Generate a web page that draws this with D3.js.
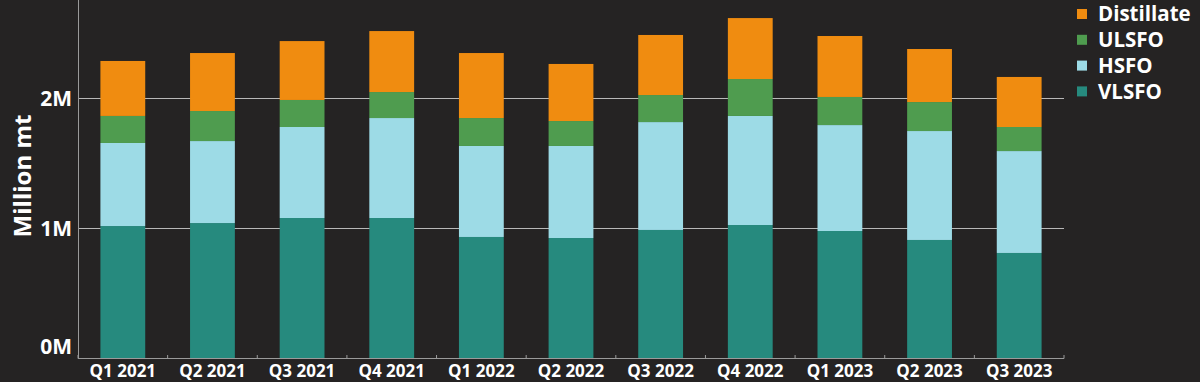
<!DOCTYPE html>
<html>
<head>
  <meta charset="utf-8">
  <title>Bunker fuel sales by grade</title>
  <script src="https://d3js.org/d3.v7.min.js"></script>
  <style>
    body {
      margin: 0;
      background: #252323;
    }
    svg text {
      font-family: "Open Sans", "DejaVu Sans", sans-serif;
      font-weight: 700;
      fill: #ffffff;
    }
  </style>
</head>
<body>
  <div id="chart"></div>
  <script>
    // quarters on the x axis
    var quarters = ["Q1 2021", "Q2 2021", "Q3 2021", "Q4 2021", "Q1 2022", "Q2 2022",
                    "Q3 2022", "Q4 2022", "Q1 2023", "Q2 2023", "Q3 2023"];

    // million mt per grade (stacked bottom to top)
    var vlsfo      = [1.015, 1.038, 1.077, 1.077, 0.931, 0.923, 0.985, 1.023, 0.977, 0.908, 0.808];
    var hsfo       = [0.639, 0.631, 0.700, 0.769, 0.700, 0.708, 0.830, 0.839, 0.815, 0.838, 0.784];
    var ulsfo      = [0.208, 0.231, 0.208, 0.200, 0.215, 0.192, 0.208, 0.284, 0.216, 0.223, 0.185];
    var distillate = [0.423, 0.446, 0.453, 0.469, 0.500, 0.439, 0.462, 0.469, 0.469, 0.408, 0.385];

    var seriesNames = ["VLSFO", "HSFO", "ULSFO", "Distillate"];
    var yTicks = [0, 1, 2];

    var colors = {
      "VLSFO": "#268a7e",
      "HSFO": "#9ddbe6",
      "ULSFO": "#4f9c4f",
      "Distillate": "#f08c10"
    };

    var width = 1200, height = 382;
    var plotLeft = 78, plotRight = 1064, plotBottom = 358, plotTop = 0;

    var svg = d3.select("#chart").append("svg")
      .attr("width", width)
      .attr("height", height);

    // build rows for the stack
    var rows = quarters.map(function(q, i) {
      return { q: q, VLSFO: vlsfo[i], HSFO: hsfo[i], ULSFO: ulsfo[i], Distillate: distillate[i] };
    });
    var stacked = d3.stack().keys(seriesNames)(rows);

    var x = d3.scaleBand().domain(quarters).range([plotLeft, plotRight]).paddingInner(0.5).paddingOuter(0.25);
    var y = d3.scaleLinear().domain([0, 2.754]).range([plotBottom, plotTop]);

    // gridlines
    svg.append("g")
      .selectAll("line")
      .data(yTicks.filter(function(d) { return d > 0; }))
      .enter().append("line")
      .attr("x1", plotLeft).attr("x2", plotRight)
      .attr("y1", function(d) { return Math.round(y(d)) + 0.5; })
      .attr("y2", function(d) { return Math.round(y(d)) + 0.5; })
      .attr("stroke", "#b8b8b8")
      .attr("stroke-width", 1);

    // bars
    svg.append("g")
      .selectAll("g")
      .data(stacked)
      .enter().append("g")
      .attr("fill", function(d) { return colors[d.key]; })
      .selectAll("rect")
      .data(function(d) { return d; })
      .enter().append("rect")
      .attr("x", function(d) { return x(d.data.q); })
      .attr("width", x.bandwidth())
      .attr("y", function(d) { return y(d[1]); })
      .attr("height", function(d) { return y(d[0]) - y(d[1]); });

    // y axis line
    svg.append("line")
      .attr("x1", plotLeft + 0.5).attr("x2", plotLeft + 0.5)
      .attr("y1", plotTop).attr("y2", plotBottom)
      .attr("stroke", "#9a9a9a");

    // x axis line + ticks at band edges
    svg.append("line")
      .attr("x1", plotLeft).attr("x2", plotRight)
      .attr("y1", plotBottom + 0.5).attr("y2", plotBottom + 0.5)
      .attr("stroke", "#9a9a9a");

    var edges = d3.range(quarters.length + 1).map(function(i) {
      return plotLeft + i * (plotRight - plotLeft) / quarters.length;
    });
    svg.append("g")
      .selectAll("line")
      .data(edges)
      .enter().append("line")
      .attr("x1", function(d) { return d; })
      .attr("x2", function(d) { return d; })
      .attr("y1", plotBottom - 3).attr("y2", plotBottom + 0.5)
      .attr("stroke", "#9a9a9a");

    // x labels
    svg.append("g")
      .selectAll("text")
      .data(quarters)
      .enter().append("text")
      .attr("x", function(d) { return x(d) + x.bandwidth() / 2; })
      .attr("y", 377)
      .attr("text-anchor", "middle")
      .style("font-size", "17px")
      .text(function(d) { return d; });

    // y labels
    svg.append("g")
      .selectAll("text")
      .data(yTicks)
      .enter().append("text")
      .attr("x", 72)
      .attr("y", function(d) { return d === 0 ? y(d) - 12 : y(d); })
      .attr("dy", "0.36em")
      .attr("text-anchor", "end")
      .style("font-size", "21px")
      .text(function(d) { return d + "M"; });

    // y title
    svg.append("text")
      .attr("transform", "translate(31,176) rotate(-90)")
      .attr("text-anchor", "middle")
      .style("font-size", "24px")
      .text("Million mt");

    // legend (top to bottom: Distillate first)
    var legend = svg.append("g")
      .selectAll("g")
      .data(seriesNames.slice().reverse())
      .enter().append("g")
      .attr("transform", function(d, i) { return "translate(1077," + (14 + i * 25.8) + ")"; });

    legend.append("rect")
      .attr("x", 0).attr("y", -5)
      .attr("width", 10).attr("height", 10)
      .attr("fill", function(d) { return colors[d]; });

    legend.append("text")
      .attr("x", 21)
      .attr("dy", "0.36em")
      .style("font-size", "20.5px")
      .text(function(d) { return d; });
  </script>
</body>
</html>
